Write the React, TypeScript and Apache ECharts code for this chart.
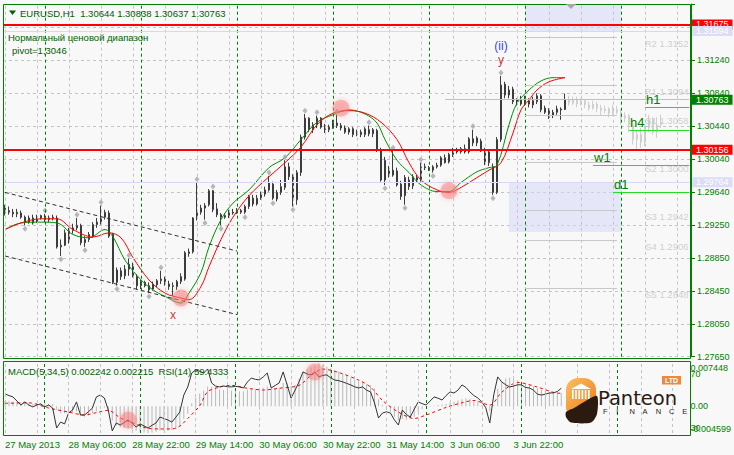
import React, { useEffect, useRef } from 'react';
import * as echarts from 'echarts';

const FONT = '"Liberation Sans", Arial, sans-serif';
const symbolName = 'EURUSD,H1';

// price axis
const priceLabels = ['1.27650', '1.28050', '1.28450', '1.28850', '1.29250', '1.29640', '1.30040', '1.30440', '1.30840', '1.31240'];
const yMin = 1.2765;
const yStep = 0.003989;
const yMax = 1.31922;

// time axis
const timeLabels = ['27 May 2013', '28 May 06:00', '28 May 22:00', '29 May 14:00', '30 May 06:00', '30 May 22:00', '31 May 14:00', '3 Jun 06:00', '3 Jun 22:00'];
const timeLabelIdx = [0, 16, 32, 48, 64, 80, 96, 112, 128];
const daySeparators = [10, 34, 58, 82, 106, 130, 154];
const gridColumns = [0, 8, 16, 24, 32, 40, 48, 56, 64, 72, 80, 88, 96, 104, 112, 120, 128, 136, 144, 152, 160, 168];
const barCount = 172;

// H1 candles (27 May 14:00 .. 4 Jun 10:00)
const open = [
  1.2945, 1.2940, 1.2940, 1.2938, 1.2939, 1.2934, 1.2928, 1.2933, 1.2928, 1.2933,
  1.2934, 1.2931, 1.2933, 1.2933, 1.2898, 1.2900, 1.2907, 1.2918, 1.2921, 1.2924,
  1.2903, 1.2907, 1.2911, 1.2925, 1.2928, 1.2934, 1.2939, 1.2913, 1.2855, 1.2869,
  1.2863, 1.2871, 1.2876, 1.2862, 1.2851, 1.2855, 1.2851, 1.2847, 1.2852, 1.2857,
  1.2859, 1.2853, 1.2850, 1.2850, 1.2856, 1.2859, 1.2890, 1.2892, 1.2933, 1.2940,
  1.2945, 1.2949, 1.2966, 1.2944, 1.2937, 1.2934, 1.2936, 1.2940, 1.2939, 1.2942,
  1.2940, 1.2947, 1.2957, 1.2950, 1.2957, 1.2962, 1.2967, 1.2974, 1.2956, 1.2964,
  1.2970, 1.2995, 1.2983, 1.2955, 1.2988, 1.3031, 1.3054, 1.3040, 1.3046, 1.3054,
  1.3045, 1.3040, 1.3043, 1.3048, 1.3045, 1.3042, 1.3037, 1.3041, 1.3034, 1.3037,
  1.3034, 1.3040, 1.3035, 1.3039, 1.3016, 1.2979, 1.2990, 1.2985, 1.2990, 1.2974,
  1.2960, 1.2979, 1.2972, 1.2982, 1.2979, 1.2995, 1.2994, 1.2991, 1.2995, 1.2997,
  1.3006, 1.3001, 1.3010, 1.3016, 1.3013, 1.3017, 1.3013, 1.3029, 1.3024, 1.3026,
  1.3016, 1.3000, 1.2995, 1.2964, 1.3028, 1.3095, 1.3082, 1.3089, 1.3076, 1.3071,
  1.3077, 1.3071, 1.3075, 1.3074, 1.3081, 1.3066, 1.3064, 1.3057, 1.3061, 1.3065,
  1.30644,
];
const high = [
  1.2949, 1.2947, 1.2944, 1.2944, 1.2942, 1.2936, 1.2936, 1.2937, 1.2937, 1.2937,
  1.2938, 1.2936, 1.2937, 1.2936, 1.2907, 1.2919, 1.2921, 1.2926, 1.2933, 1.2926,
  1.2911, 1.2916, 1.2928, 1.2933, 1.2948, 1.2943, 1.2942, 1.2915, 1.2873, 1.2873,
  1.2876, 1.2884, 1.2879, 1.2865, 1.2858, 1.2857, 1.2855, 1.2856, 1.2859, 1.2869,
  1.2862, 1.2857, 1.2855, 1.2858, 1.2866, 1.2893, 1.2896, 1.2934, 1.2976, 1.2949,
  1.2951, 1.2968, 1.2967, 1.2951, 1.2939, 1.2939, 1.2943, 1.2944, 1.2945, 1.2944,
  1.2949, 1.2961, 1.2961, 1.2961, 1.2965, 1.2971, 1.2984, 1.2977, 1.2967, 1.2979,
  1.3003, 1.3000, 1.2986, 1.2991, 1.3034, 1.3059, 1.3055, 1.3049, 1.3057, 1.3055,
  1.3047, 1.3046, 1.3052, 1.3058, 1.3048, 1.3045, 1.3043, 1.3043, 1.3040, 1.3040,
  1.3043, 1.3045, 1.3042, 1.3041, 1.3018, 1.3007, 1.2996, 1.3014, 1.2994, 1.2978,
  1.2985, 1.2983, 1.2986, 1.2985, 1.3000, 1.2999, 1.2996, 1.2997, 1.3000, 1.3008,
  1.3010, 1.3012, 1.3018, 1.3018, 1.3019, 1.3022, 1.3031, 1.3040, 1.3032, 1.3029,
  1.3018, 1.3016, 1.2999, 1.3031, 1.3105, 1.3098, 1.3093, 1.3092, 1.3078, 1.3081,
  1.3081, 1.3078, 1.3080, 1.3084, 1.3083, 1.3069, 1.3066, 1.3064, 1.3069, 1.3067,
  1.30838,
];
const low = [
  1.2936, 1.2937, 1.2934, 1.2934, 1.2932, 1.2924, 1.2926, 1.2925, 1.2927, 1.2931,
  1.2928, 1.2928, 1.2930, 1.2896, 1.2887, 1.2899, 1.2902, 1.2914, 1.2918, 1.2900,
  1.2898, 1.2904, 1.2909, 1.2921, 1.2925, 1.2931, 1.2909, 1.2853, 1.2851, 1.2858,
  1.2859, 1.2863, 1.2861, 1.2846, 1.2847, 1.2849, 1.2842, 1.2845, 1.2849, 1.2853,
  1.2851, 1.2846, 1.2839, 1.2846, 1.2853, 1.2857, 1.2886, 1.2890, 1.2930, 1.2937,
  1.2931, 1.2947, 1.2940, 1.2934, 1.2924, 1.2932, 1.2933, 1.2937, 1.2938, 1.2938,
  1.2938, 1.2944, 1.2947, 1.2948, 1.2955, 1.2959, 1.2965, 1.2955, 1.2953, 1.2961,
  1.2967, 1.2979, 1.2947, 1.2949, 1.2984, 1.3028, 1.3037, 1.3036, 1.3042, 1.3041,
  1.3036, 1.3037, 1.3041, 1.3042, 1.3039, 1.3035, 1.3034, 1.3031, 1.3032, 1.3031,
  1.3031, 1.3032, 1.3031, 1.3013, 1.2977, 1.2973, 1.2982, 1.2983, 1.2971, 1.2955,
  1.2949, 1.2967, 1.2968, 1.2976, 1.2977, 1.2991, 1.2990, 1.2988, 1.2993, 1.2995,
  1.2999, 1.2999, 1.3007, 1.3011, 1.3011, 1.3011, 1.3011, 1.3020, 1.3020, 1.3013,
  1.2997, 1.2996, 1.2961, 1.2962, 1.3025, 1.3078, 1.3078, 1.3071, 1.3069, 1.3069,
  1.3069, 1.3067, 1.3066, 1.3071, 1.3061, 1.3059, 1.3053, 1.3054, 1.3058, 1.3052,
  1.30637,
];
const close = [
  1.2939, 1.2942, 1.2938, 1.2940, 1.2934, 1.2928, 1.2933, 1.2927, 1.2933, 1.2936,
  1.2931, 1.2933, 1.2934, 1.2898, 1.2900, 1.2915, 1.2918, 1.2921, 1.2924, 1.2903,
  1.2907, 1.2913, 1.2925, 1.2928, 1.2934, 1.2940, 1.2911, 1.2855, 1.2870, 1.2862,
  1.2871, 1.2877, 1.2863, 1.2851, 1.2856, 1.2851, 1.2846, 1.2853, 1.2857, 1.2859,
  1.2853, 1.2850, 1.2851, 1.2856, 1.2862, 1.2891, 1.2892, 1.2933, 1.2940, 1.2945,
  1.2948, 1.2966, 1.2943, 1.2937, 1.2934, 1.2936, 1.2940, 1.2939, 1.2942, 1.2940,
  1.2947, 1.2959, 1.2950, 1.2957, 1.2962, 1.2967, 1.2976, 1.2957, 1.2964, 1.2971,
  1.2995, 1.2983, 1.2955, 1.2988, 1.3031, 1.3054, 1.3040, 1.3046, 1.3054, 1.3043,
  1.3040, 1.3043, 1.3048, 1.3045, 1.3042, 1.3037, 1.3041, 1.3034, 1.3037, 1.3034,
  1.3041, 1.3035, 1.3040, 1.3016, 1.2979, 1.3003, 1.2985, 1.2991, 1.2973, 1.2959,
  1.2982, 1.2971, 1.2983, 1.2979, 1.2995, 1.2994, 1.2991, 1.2995, 1.2997, 1.3006,
  1.3000, 1.3010, 1.3016, 1.3013, 1.3017, 1.3013, 1.3029, 1.3024, 1.3030, 1.3014,
  1.3000, 1.3013, 1.2964, 1.3028, 1.3094, 1.3082, 1.3088, 1.3074, 1.3071, 1.3077,
  1.3071, 1.3075, 1.3070, 1.3081, 1.3064, 1.3061, 1.3055, 1.3061, 1.3065, 1.3064,
  1.30763,
];

// light grey projected bars (index 141 .. 164)
const ghostStart = 141;
const ghostOpen = [1.3076, 1.3072, 1.3076, 1.3071, 1.3075, 1.3070, 1.3066, 1.3071, 1.3066, 1.3063, 1.3065, 1.3060, 1.3064, 1.3061, 1.3054, 1.3057, 1.3046, 1.3028, 1.3034, 1.3025, 1.3042, 1.3052, 1.3037, 1.3046];
const ghostHigh = [1.3081, 1.3080, 1.3080, 1.3078, 1.3077, 1.3074, 1.3075, 1.3074, 1.3070, 1.3069, 1.3067, 1.3070, 1.3069, 1.3065, 1.3061, 1.3059, 1.3049, 1.3040, 1.3042, 1.3047, 1.3058, 1.3055, 1.3055, 1.3058];
const ghostLow = [1.3069, 1.3070, 1.3067, 1.3069, 1.3066, 1.3063, 1.3064, 1.3061, 1.3057, 1.3060, 1.3055, 1.3058, 1.3059, 1.3046, 1.3049, 1.3037, 1.3022, 1.3016, 1.3018, 1.3020, 1.3037, 1.3034, 1.3030, 1.3042];
const ghostClose = [1.3072, 1.3076, 1.3071, 1.3075, 1.3070, 1.3066, 1.3071, 1.3066, 1.3063, 1.3065, 1.3060, 1.3064, 1.3061, 1.3054, 1.3057, 1.3046, 1.3028, 1.3034, 1.3025, 1.3042, 1.3052, 1.3037, 1.3046, 1.3049];

// moving averages (read at sample bars)
const maGreenIdx = [0, 4, 9, 13, 17, 21, 25, 27, 30, 34, 37, 40, 44, 46, 49, 51, 54, 57, 61, 66, 70, 74, 78, 82, 86, 90, 93, 95, 98, 101, 104, 108, 111, 114, 118, 121, 123, 126, 128, 131, 134, 137, 140];
const maGreenVal = [1.2919, 1.2927, 1.2928, 1.2927, 1.2913, 1.2909, 1.2919, 1.2910, 1.2882, 1.2858, 1.2846, 1.2838, 1.2830, 1.2842, 1.2867, 1.2898, 1.2931, 1.2951, 1.2967, 1.2994, 1.3006, 1.3028, 1.3049, 1.3058, 1.3064, 1.3059, 1.3048, 1.3028, 1.3003, 1.2988, 1.2973, 1.2965, 1.2965, 1.2976, 1.2989, 1.2994, 1.2997, 1.3046, 1.3072, 1.3088, 1.3099, 1.3103, 1.3103];
const maRedIdx = [0, 4, 9, 13, 17, 22, 26, 29, 32, 36, 40, 44, 46, 49, 51, 54, 57, 61, 66, 70, 74, 78, 82, 86, 90, 94, 98, 101, 104, 108, 111, 114, 118, 121, 124, 127, 129, 131, 133, 136, 140];
const maRedVal = [1.2919, 1.2927, 1.2932, 1.2932, 1.2919, 1.2910, 1.2915, 1.2909, 1.2885, 1.2858, 1.2842, 1.2836, 1.2834, 1.2850, 1.2874, 1.2907, 1.2934, 1.2960, 1.2983, 1.3000, 1.3019, 1.3046, 1.3060, 1.3063, 1.3060, 1.3049, 1.3028, 1.3000, 1.2979, 1.2967, 1.2964, 1.2970, 1.2982, 1.2991, 1.3000, 1.3036, 1.3064, 1.3076, 1.3088, 1.3098, 1.3103];

// fractals
const fractalUp = [[10, 1.2942], [18, 1.2937], [24, 1.2952], [31, 1.2888], [39, 1.2873], [48, 1.2980], [52, 1.2971], [66, 1.2988], [70, 1.3007], [75, 1.3063], [78, 1.3061], [83, 1.3062], [91, 1.3049], [97, 1.3018], [104, 1.3004], [117, 1.3044], [124, 1.3109]];
const fractalDown = [[5, 1.2920], [14, 1.2883], [20, 1.2894], [28, 1.2847], [36, 1.2838], [42, 1.2835], [50, 1.2927], [54, 1.2920], [60, 1.2934], [67, 1.2951], [72, 1.2943], [95, 1.2969], [100, 1.2945], [107, 1.2984], [122, 1.2957]];

// levels
const redLevels = [1.31675, 1.30156];
const blueLevels = [1.31594, 1.29764];
const pivotNames = ['R2', 'R1', 'S1', 'S2', 'S3', 'S4', 'S5'];
const pivotValues = [1.3152, 1.3094, 1.3058, 1.3000, 1.2942, 1.2906, 1.2848];
const tfNames = ['h1', 'h4', 'w1', 'd1'];
const tfValues = [1.30671, 1.30396, 1.29972, 1.29645];
const tfStart = [160, 156, 147, 152];
const channelUpper = [[0, 1.2964], [58, 1.2893]];
const channelLower = [[0, 1.2887], [58, 1.2816]];
const upperZone = [130, 154, 1.31594];
const lowerZone = [126, 154, 1.29764, 1.2916];
const highlightPrice = [[44, 1.2836], [84, 1.3066], [111, 1.2966]];
const waveLabels = [
  { idx: 42, price: 1.2815, text: 'x', color: '#b00000' },
  { idx: 124, price: 1.3124, text: 'y', color: '#b00000' },
  { idx: 124, price: 1.3141, text: '(ii)', color: '#0000ff' },
];

// MACD(5,34,5) main (histogram) and signal, RSI(14)
const macdMin = -0.004599;
const macdMax = 0.007448;
const macd = [
  0.0009, 0.0009, 0.0008, 0.0008, 0.0007, 0.0005, 0.0004, 0.0004, 0.0005, 0.0005, 0.0005, 0.0004, 0.0004,
  -0.0006, -0.0012, -0.0012, -0.0011, -0.0010, -0.0009, -0.0016, -0.0018, -0.0016, -0.0012, -0.0009, -0.0005, -0.0002, -0.0008,
  -0.0025, -0.0033, -0.0036, -0.0037, -0.0038, -0.0040, -0.0042, -0.0044, -0.0045, -0.004599, -0.0045, -0.0044, -0.0042, -0.0042, -0.0042, -0.0041, -0.0039, -0.0036,
  -0.0022, -0.0013, 0.0005, 0.0015, 0.0022, 0.0027,
  0.0034, 0.0033, 0.0031, 0.0029, 0.0028, 0.0028, 0.0027, 0.0027, 0.0026, 0.0026,
  0.0029, 0.0029, 0.0030, 0.0031, 0.0032, 0.0034, 0.0031, 0.0031, 0.0032, 0.0040, 0.0040, 0.0035, 0.0037, 0.0048,
  0.0060, 0.0064, 0.0067, 0.0070, 0.007448, 0.0072, 0.0068, 0.0065, 0.0063, 0.0060, 0.0056, 0.0053, 0.0049, 0.0046, 0.0043, 0.0041, 0.0038, 0.0036,
  0.0030, 0.0012, 0.0002, -0.0006, -0.0010, -0.0018, -0.0024, -0.0022, -0.0023, -0.0021, -0.0018, -0.0010, -0.0005,
  0.0000, -0.0001, 0.0001, 0.0002, 0.0003, 0.0004, 0.0006, 0.0008, 0.0010, 0.0012, 0.0014, 0.0013, 0.0011, 0.0008, 0.0002, 0.0001,
  -0.0008, 0.0002, 0.0030, 0.0042, 0.0048, 0.0049, 0.0047, 0.0045, 0.0042, 0.0039, 0.0036, 0.0034, 0.0031, 0.0029, 0.0027, 0.0025, 0.0024, 0.0023, 0.002242,
];
const signalIdx = [0, 6, 11, 16, 20, 23, 26, 29, 32, 36, 39, 42, 44, 46, 49, 51, 54, 57, 61, 65, 69, 74, 77, 80, 84, 89, 92, 95, 99, 103, 106, 111, 115, 118, 122, 125, 129, 134, 138, 140];
const signalVal = [0.0005, 0.0006, -0.0003, -0.0010, -0.0015, -0.0011, -0.0007, -0.0020, -0.0028, -0.0038, -0.0039, -0.0039, -0.0034, -0.0021, 0.0001, 0.0025, 0.0033, 0.0036, 0.0031, 0.0028, 0.0031, 0.0036, 0.0053, 0.0064, 0.0058, 0.0045, 0.0033, 0.0010, -0.0010, -0.0021, -0.0015, -0.0002, 0.0006, 0.0010, 0.0002, 0.0024, 0.0041, 0.0033, 0.0024, 0.002215];
const rsiMin = 26.3;
const rsiMax = 78.1;
const rsiLevels = [30, 70];
const rsi = [
  55.2, 54, 53.0, 50, 47.0, 49.3, 47, 45.6, 47, 47.8, 45.6, 47.0, 44.8, 30.0, 34.4, 33.0, 41.1, 43.3, 49.3, 39.6,
  39.6, 42, 44.8, 53.0, 54.4, 52.2, 43.3, 27.8, 33.7, 32.2, 34, 35.9, 33.7, 30.7, 33.0, 31.5, 30.0, 32, 33.7, 38.1,
  37, 35.9, 34.4, 38, 41.9, 54.4, 60.4, 70.7, 73.0, 72, 70.7, 73.7, 63.3, 61, 60.4, 61.1, 60.5, 60.4, 60.8, 60.4,
  59.6, 64, 67.0, 66, 65.6, 67.8, 70.7, 59.6, 61.5, 63.3, 71.5, 61.9, 52.2, 58, 64.1, 71.5, 70, 69.3, 71.5, 67.8,
  69, 69.3, 67.0, 65.5, 65, 64.1, 63, 61.9, 60.5, 59.6, 60.4, 58, 56.7, 48.5, 37.4, 41.1, 42, 41.1, 36, 32.2,
  43.3, 40, 38.1, 44, 49.3, 48, 47.0, 50, 53.0, 52, 50.7, 54, 56.7, 55.9, 58, 61.9, 60, 56.7, 54, 52.2,
  49.3, 45, 33.7, 54.4, 67.8, 64.1, 62, 60.4, 61, 62, 61.9, 60, 59.6, 58, 55, 54.4, 55, 55.9, 56, 57,
  59.4333,
];
const rsiHighlight = [[31, 35.9], [78, 71.5]];

const GREEN = '#008000';

function buildOption() {
  const cats = Array.from({ length: barCount }, (_, i) => String(i));
  const lastCat = barCount - 1;
  const last = close.length - 1;
  const candles = open.map((o, i) => [o, close[i], low[i], high[i]]);
  const ghost: any[] = cats.map((_, i) => {
    const k = i - ghostStart;
    return k >= 0 && k < ghostOpen.length ? [ghostOpen[k], ghostClose[k], ghostLow[k], ghostHigh[k]] : '-';
  });
  const lblFmt = (v: number) => {
    const k = Math.round((v - yMin) / yStep);
    if (Math.abs(v - (yMin + k * yStep)) > 1e-7) return '';
    return k >= 0 && k < priceLabels.length ? priceLabels[k] : '';
  };
  const boxLabel = (text: string, bg: string, distance = 1) => ({
    show: true, position: 'end', distance, formatter: text, backgroundColor: bg, color: '#ffffff',
    fontSize: 9, fontFamily: FONT, padding: [0, 4, 0, 4], lineHeight: 10,
  });
  const header = `${symbolName}  ${open[last].toFixed(5)} ${high[last].toFixed(5)} ${low[last].toFixed(5)} ${close[last].toFixed(5)}`;
  const macdText = `MACD(5,34,5) ${macd[last].toFixed(6)} ${signalVal[signalVal.length - 1].toFixed(6)}  RSI(14) ${rsi[last].toFixed(4)}`;

  const txt = (x: number, y: number, text: string, fill: string, size: number, extra: any = {}, z = 50) => ({
    type: 'text', x, y, silent: true, z,
    style: { text, fill, fontSize: size, fontFamily: FONT, verticalAlign: 'middle', align: 'left', ...extra },
  });

  const financeLetters = 'FINANCE'.split('').map((ch, k) => txt(603 + k * 13.2, 411.5, ch, '#2b1b12', 7.5, {}, 55));
  const columns = [572, 575.2, 578.4, 581.6, 584.8, 588].map((x) => ({
    type: 'rect', silent: true, z: 52, shape: { x, y: 390, width: 1.6, height: 9 }, style: { fill: '#ffffff' },
  }));

  return {
    animation: false,
    backgroundColor: '#f8f8f8',
    textStyle: { fontFamily: FONT },
    grid: [
      { left: 3, top: 4, width: 688, height: 352.7 },
      { left: 3, top: 363, width: 688, height: 70 },
    ],
    xAxis: [
      {
        type: 'category', gridIndex: 0, data: cats, boundaryGap: true,
        axisLine: { show: false }, axisTick: { show: false }, axisLabel: { show: false }, splitLine: { show: false },
      },
      {
        type: 'category', gridIndex: 1, data: cats, boundaryGap: true, offset: 2,
        axisLine: { show: false },
        axisTick: {
          show: true, alignWithLabel: true, length: 3, lineStyle: { color: GREEN },
          interval: (i: number) => timeLabelIdx.includes(i),
        },
        axisLabel: {
          interval: (i: number) => timeLabelIdx.includes(i),
          formatter: (_v: string, i: number) => timeLabels[timeLabelIdx.indexOf(i)] ?? '',
          align: 'left', color: GREEN, fontSize: 9.5, fontFamily: FONT, margin: 4,
        },
        splitLine: { show: false },
      },
    ],
    yAxis: [
      {
        type: 'value', gridIndex: 0, position: 'right', min: yMin, max: yMax, interval: yStep, scale: true,
        axisLine: { show: true, lineStyle: { color: GREEN } },
        axisTick: { show: true, length: 4, lineStyle: { color: GREEN } },
        axisLabel: { formatter: lblFmt, color: GREEN, fontSize: 9, fontFamily: FONT, margin: 6 },
        splitLine: { show: true, lineStyle: { color: '#c4c4c4', type: [3, 3], width: 1 } },
      },
      {
        type: 'value', gridIndex: 1, position: 'right', min: macdMin, max: macdMax,
        axisLine: { show: false }, axisTick: { show: false }, splitLine: { show: false },
        axisLabel: {
          customValues: [macdMin, 0, macdMax],
          formatter: (v: number) => (v === 0 ? '0.00' : v.toFixed(6)),
          verticalAlignMinLabel: 'bottom', verticalAlignMaxLabel: 'top',
          color: GREEN, fontSize: 9, fontFamily: FONT, margin: 4,
        },
      },
      {
        type: 'value', gridIndex: 1, position: 'right', min: rsiMin, max: rsiMax,
        axisLine: { show: false }, axisTick: { show: false }, splitLine: { show: false },
        axisLabel: { customValues: rsiLevels, color: GREEN, fontSize: 9, fontFamily: FONT, margin: 4 },
      },
    ],
    series: [
      // vertical grid + day separators (main)
      {
        type: 'line', xAxisIndex: 0, yAxisIndex: 0, data: [], z: 1, silent: true,
        markLine: {
          silent: true, symbol: ['none', 'none'], label: { show: false }, animation: false,
          data: [
            ...gridColumns.map((i) => ({ xAxis: i, lineStyle: { color: '#c4c4c4', type: [3, 3], width: 1 } })),
            ...daySeparators.map((i) => ({ xAxis: i, lineStyle: { color: GREEN, type: [3, 3], width: 1 } })),
          ],
        },
      },
      // vertical grid + day separators (MACD)
      {
        type: 'line', xAxisIndex: 1, yAxisIndex: 1, data: [], z: 1, silent: true,
        markLine: {
          silent: true, symbol: ['none', 'none'], label: { show: false }, animation: false,
          data: [
            ...gridColumns.map((i) => ({ xAxis: i, lineStyle: { color: '#c4c4c4', type: [3, 3], width: 1 } })),
            ...daySeparators.map((i) => ({ xAxis: i, lineStyle: { color: GREEN, type: [3, 3], width: 1 } })),
          ],
        },
      },
      // levels, zones, channels
      {
        type: 'line', xAxisIndex: 0, yAxisIndex: 0, data: [], z: 1, silent: true,
        markArea: {
          silent: true,
          itemStyle: { color: 'rgba(215,215,250,0.55)' },
          data: [
            [{ xAxis: upperZone[0], yAxis: upperZone[2] }, { xAxis: upperZone[1], yAxis: yMax }],
            [{ xAxis: lowerZone[0], yAxis: lowerZone[2] }, { xAxis: lowerZone[1], yAxis: lowerZone[3] }],
          ],
        },
        markLine: {
          silent: true, symbol: ['none', 'none'], animation: false, label: { show: false }, precision: 6,
          data: [
            ...redLevels.map((v) => ({ yAxis: v, lineStyle: { color: '#ff0000', width: 2, type: 'solid' }, label: boxLabel(v.toFixed(5), '#ff0000') })),
            ...blueLevels.map((v) => ({ yAxis: v, lineStyle: { color: '#d8d8f4', width: 1, type: 'solid' }, label: boxLabel(v.toFixed(5), '#dcdcf6') })),
            [
              { xAxis: 110, yAxis: close[last], lineStyle: { color: '#c0c0c0', width: 1, type: 'solid' }, label: boxLabel(close[last].toFixed(5), GREEN, 3) },
              { xAxis: lastCat, yAxis: close[last] },
            ],
            ...pivotValues.map((v) => [
              { xAxis: 130, yAxis: v, lineStyle: { color: '#c8c8c8', width: 1, type: 'solid' } },
              { xAxis: 153, yAxis: v },
            ]),
            ...tfValues.map((v, k) => [
              {
                xAxis: tfStart[k], yAxis: v, lineStyle: { color: '#22dd22', width: 1, type: 'solid' },
                label: { show: true, position: 'insideStartTop', formatter: tfNames[k], color: GREEN, fontSize: 13, fontFamily: FONT, distance: 1 },
              },
              { xAxis: lastCat, yAxis: v },
            ]),
            [
              { coord: channelUpper[0], lineStyle: { color: '#303030', width: 1, type: [4, 3] } },
              { coord: channelUpper[1] },
            ],
            [
              { coord: channelLower[0], lineStyle: { color: '#303030', width: 1, type: [4, 3] } },
              { coord: channelLower[1] },
            ],
          ],
        },
      },
      // ghost candles
      {
        type: 'candlestick', xAxisIndex: 0, yAxisIndex: 0, data: ghost, barWidth: 2, z: 2, silent: true,
        itemStyle: { color: '#f4f4f4', color0: '#cfcfcf', borderColor: '#cfcfcf', borderColor0: '#cfcfcf', borderWidth: 1 },
      },
      // main candles
      {
        type: 'candlestick', xAxisIndex: 0, yAxisIndex: 0, data: candles, barWidth: 2, z: 3, silent: true,
        itemStyle: { color: '#ffffff', color0: '#3c3c3c', borderColor: '#3c3c3c', borderColor0: '#3c3c3c', borderWidth: 1 },
      },
      {
        type: 'line', xAxisIndex: 0, yAxisIndex: 0, z: 4, silent: true, smooth: 0.35, symbol: 'none',
        data: maGreenIdx.map((i, k) => [i, maGreenVal[k]]), lineStyle: { color: '#009000', width: 1 },
      },
      {
        type: 'line', xAxisIndex: 0, yAxisIndex: 0, z: 4, silent: true, smooth: 0.35, symbol: 'none',
        data: maRedIdx.map((i, k) => [i, maRedVal[k]]), lineStyle: { color: '#ff0000', width: 1 },
      },
      {
        type: 'scatter', xAxisIndex: 0, yAxisIndex: 0, z: 4, silent: true, symbol: 'diamond', symbolSize: [5, 6],
        data: [...fractalUp, ...fractalDown], itemStyle: { color: '#a6a6a6' },
      },
      {
        type: 'scatter', xAxisIndex: 0, yAxisIndex: 0, z: 5, silent: true, symbol: 'circle', symbolSize: 17,
        data: highlightPrice,
        itemStyle: { color: 'rgba(248,120,120,0.55)', shadowBlur: 6, shadowColor: 'rgba(248,110,110,0.7)' },
      },
      {
        type: 'scatter', xAxisIndex: 0, yAxisIndex: 0, z: 6, silent: true, symbolSize: 1,
        itemStyle: { color: 'rgba(0,0,0,0)' },
        data: waveLabels.map((w) => ({
          value: [w.idx, w.price],
          label: { show: true, position: 'inside', formatter: w.text, color: w.color, fontSize: 12, fontFamily: FONT },
        })),
      },
      {
        type: 'scatter', xAxisIndex: 0, yAxisIndex: 0, z: 6, silent: true, symbolSize: 1,
        itemStyle: { color: 'rgba(0,0,0,0)' },
        data: pivotValues.map((v, k) => ({
          value: [lastCat, v],
          label: {
            show: true, position: 'left', distance: 0, offset: [0, 6], formatter: `${pivotNames[k]} ${v.toFixed(4)}`,
            color: '#c4c4c4', fontSize: 9.5, fontFamily: FONT,
          },
        })),
      },
      // MACD histogram
      {
        type: 'bar', xAxisIndex: 1, yAxisIndex: 1, data: macd, barWidth: 1, z: 2, silent: true,
        itemStyle: { color: '#b8b8b8' },
      },
      {
        type: 'line', xAxisIndex: 1, yAxisIndex: 1, z: 3, silent: true, symbol: 'none', smooth: 0.3,
        data: signalIdx.map((i, k) => [i, signalVal[k]]), lineStyle: { color: '#ff0000', width: 1, type: [3, 3] },
      },
      {
        type: 'line', xAxisIndex: 1, yAxisIndex: 2, z: 4, silent: true, symbol: 'none',
        data: rsi, lineStyle: { color: '#333333', width: 1 },
      },
      {
        type: 'scatter', xAxisIndex: 1, yAxisIndex: 2, z: 5, silent: true, symbolSize: 17, data: rsiHighlight,
        itemStyle: { color: 'rgba(248,120,120,0.55)', shadowBlur: 6, shadowColor: 'rgba(248,110,110,0.7)' },
      },
    ],
    graphic: [
      { type: 'rect', silent: true, z: 40, shape: { x: 3.5, y: 4.5, width: 687, height: 354 }, style: { fill: 'none', stroke: GREEN, lineWidth: 1 } },
      { type: 'rect', silent: true, z: 40, shape: { x: 3.5, y: 361.5, width: 687, height: 74 }, style: { fill: 'none', stroke: GREEN, lineWidth: 1 } },
      { type: 'polygon', silent: true, z: 41, shape: { points: [[566, 4], [576, 4], [571, 9]] }, style: { fill: '#a8a8a8' } },
      { type: 'polygon', silent: true, z: 50, shape: { points: [[9, 10.5], [16, 10.5], [12.5, 15]] }, style: { fill: '#006000' } },
      txt(20, 13, header, '#006000', 9.5),
      txt(8, 37, 'Нормальный ценовой диапазон', '#006000', 9.5),
      txt(12, 50, 'pivot=1,3046', '#006000', 9.5),
      txt(8, 371, macdText, '#006000', 9.5),
      // logo
      {
        type: 'rect', silent: true, z: 51, shape: { x: 566, y: 378, width: 30, height: 36, r: [12, 12, 6, 6] },
        style: { fill: new echarts.graphic.LinearGradient(0, 0, 1, 1, [{ offset: 0, color: '#fbc060' }, { offset: 1, color: '#ee7a1c' }]) },
      },
      { type: 'polygon', silent: true, z: 52, shape: { points: [[571, 389], [591, 389], [581, 383.5]] }, style: { fill: '#ffffff' } },
      ...columns,
      {
        type: 'polygon', silent: true, z: 53,
        shape: { points: [[566, 412], [574, 408], [584, 402], [597, 396], [597, 414], [591, 422.5], [571, 422.5], [566, 417]], smooth: 0.25 },
        style: { fill: '#2b1a10' },
      },
      txt(598, 398.5, 'Panteon', '#2b1b12', 19.5, { fontFamily: '"DejaVu Sans", sans-serif' }, 55),
      { type: 'rect', silent: true, z: 51, shape: { x: 662, y: 376, width: 19, height: 8.5 }, style: { fill: '#f0883a' } },
      txt(671.5, 380.4, 'LTD', '#ffffff', 7, { align: 'center', fontWeight: 'bold' }, 56),
      ...financeLetters,
    ],
  };
}

export default function App() {
  const ref = useRef<HTMLDivElement>(null);
  useEffect(() => {
    if (!ref.current) return;
    const chart = echarts.init(ref.current, undefined, { renderer: 'svg' });
    chart.setOption(buildOption() as any);
    return () => chart.dispose();
  }, []);
  return <div ref={ref} style={{ position: 'fixed', left: 0, top: 0, width: 734, height: 455 }} />;
}
